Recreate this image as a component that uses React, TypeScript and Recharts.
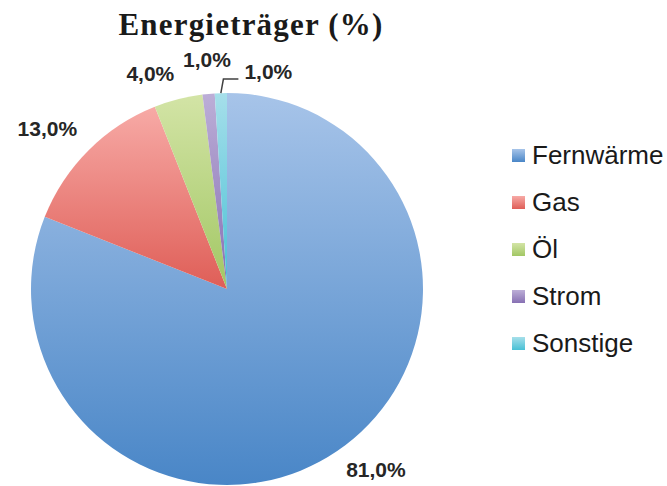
import { PieChart, Pie, Cell, Legend } from 'recharts';

const CATEGORIES = ['Fernwärme', 'Gas', 'Öl', 'Strom', 'Sonstige'];
const SHARES = [81.0, 13.0, 4.0, 1.0, 1.0];

// gradient colours per slice: light top, darker bottom
const COLORS_TOP = ['#a7c4e9', '#f7aaa6', '#d3e4a6', '#bcaed7', '#a6dfea'];
const COLORS_BOTTOM = ['#4986c7', '#df5e57', '#a2c764', '#8770b3', '#48c0d5'];

const data = CATEGORIES.map((name, i) => ({ name, value: SHARES[i] }));

const RADIAN = Math.PI / 180;
const fmt = (v: number) => v.toFixed(1).replace('.', ',') + '%';

const renderLabel = (props: any) => {
  const { cx, cy, midAngle, outerRadius, value, index } = props;
  const cos = Math.cos(-midAngle * RADIAN);
  const sin = Math.sin(-midAngle * RADIAN);
  const style = { fontFamily: 'Liberation Sans, Arial', fontWeight: 700, fontSize: 21, fill: '#262626' };

  // tiny last slice gets a leader line like Excel does
  if (index === data.length - 1 && value < 2) {
    const x0 = cx + outerRadius * cos;
    const y0 = cy + outerRadius * sin;
    const x1 = cx + (outerRadius + 14) * cos + 3;
    const y1 = cy + (outerRadius + 14) * sin;
    const x2 = x1 + 15;
    return (
      <g>
        <polyline points={`${x0},${y0} ${x1},${y1} ${x2},${y1}`} fill="none" stroke="#404040" strokeWidth={1.5} />
        <text x={x2 + 6} y={y1} textAnchor="start" {...style}>
          {fmt(value)}
        </text>
      </g>
    );
  }

  const d = outerRadius + 16;
  const x = cx + d * cos;
  const y = cy + d * sin;
  const anchor = cos > 0.1 ? 'start' : cos < -0.1 ? 'end' : 'middle';
  let baseline = sin < 0 ? y - 3 : y + 13;
  if (anchor === 'middle' && sin < 0) baseline -= 8;
  return (
    <text x={x} y={baseline} textAnchor={anchor} {...style}>
      {fmt(value)}
    </text>
  );
};

const LegendContent = () => (
  <div>
    {CATEGORIES.map((name, i) => (
      <div key={name} style={{ display: 'flex', alignItems: 'center', height: 47 }}>
        <div
          style={{
            width: 13,
            height: 13,
            marginRight: 7,
            background: `linear-gradient(${COLORS_TOP[i]}, ${COLORS_BOTTOM[i]})`,
          }}
        />
        <span style={{ fontFamily: 'Liberation Sans, Arial', fontSize: 26, color: '#1a1a1a' }}>{name}</span>
      </div>
    ))}
  </div>
);

export default function App() {
  return (
    <div style={{ position: 'absolute', left: 0, top: 0, width: 667, height: 486, background: '#fff' }}>
      <div
        style={{
          position: 'absolute',
          left: 0,
          top: 9,
          width: 502,
          textAlign: 'center',
          fontFamily: 'Liberation Serif, serif',
          fontWeight: 700,
          fontSize: 31,
          lineHeight: '31px',
          letterSpacing: 1.2,
          color: '#1a1a1a',
        }}
      >
        Energieträger (%)
      </div>
      <PieChart width={667} height={486} margin={{ top: 0, right: 0, bottom: 0, left: 0 }}>
        <defs>
          {COLORS_TOP.map((c, i) => (
            <linearGradient key={i} id={`grad${i}`} x1="0" y1="0" x2="0" y2="1">
              <stop offset="0%" stopColor={c} />
              <stop offset="100%" stopColor={COLORS_BOTTOM[i]} />
            </linearGradient>
          ))}
          <filter id="pieShadow" x="-10%" y="-10%" width="125%" height="125%">
            <feDropShadow dx={3} dy={4} stdDeviation={4} floodColor="#000" floodOpacity={0.3} />
          </filter>
        </defs>
        <style>{`.recharts-pie-sectors { filter: url(#pieShadow); }`}</style>
        <Pie
          data={data}
          dataKey="value"
          nameKey="name"
          cx={227}
          cy={289}
          outerRadius={196}
          startAngle={90}
          endAngle={-270}
          stroke="none"
          label={renderLabel}
          labelLine={false}
          isAnimationActive={false}
        >
          {data.map((entry, i) => (
            <Cell key={entry.name} fill={`url(#grad${i})`} />
          ))}
        </Pie>
        <Legend
          content={<LegendContent />}
          wrapperStyle={{ position: 'absolute', left: 512, top: 132, width: 160 }}
        />
      </PieChart>
    </div>
  );
}
